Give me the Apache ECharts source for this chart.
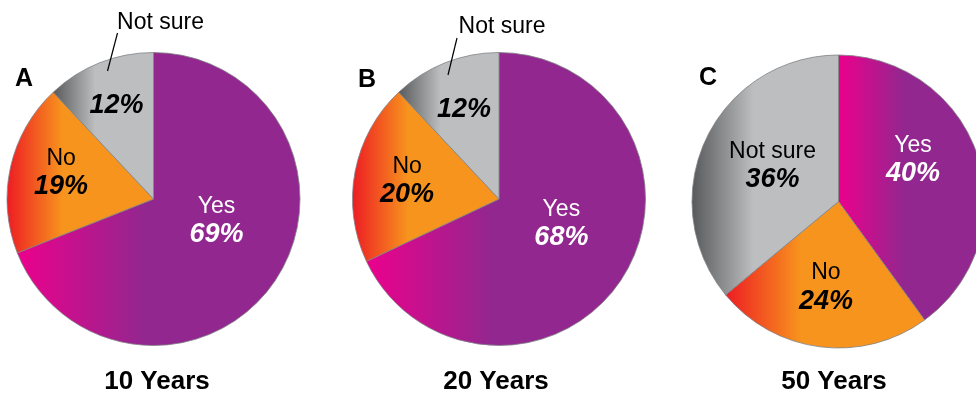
<!DOCTYPE html>
<html lang="en">
<head>
    <meta charset="UTF-8">
    <title>Pies</title>
    <script src="https://cdn.jsdelivr.net/npm/echarts@6/dist/echarts.min.js"></script>
    <style>
        * { padding: 0; margin: 0; }
        html, body { width: 976px; height: 396px; background: #fff; }
        #pies { width: 976px; height: 396px; }
    </style>
</head>
<body>
    <div id="pies"></div>
</body>
<script>
    // data
    var answers = ['Yes', 'No', 'Not sure'];
    var horizons = ['10 Years', '20 Years', '50 Years'];
    var panelTags = ['A', 'B', 'C'];
    var yesShare = [69, 68, 40];
    var noShare = [19, 20, 24];
    var notSureShare = [12, 12, 36];

    // layout
    var font = 'Liberation Sans, Arial, Helvetica, sans-serif';
    var centers = [[153.5, 199], [499, 199], [838.5, 201.5]];
    var radius = 146.5;
    var horizonX = [157, 496, 834];
    var tagPos = [[24, 79], [367, 80], [708, 78]];
    // nudges of the inner labels from the default mid-radius spot
    var nudge = [
        [[0, -21], [-18, -10], [-9, -23]],
        [[-2, -16], [-17, -4], [-7, -19]],
        [[2, -18], [-3, 10], [3, -3]]
    ];
    // "Not sure" label drawn outside for A and B: label centre, leader start, leader end (relative to pie centre)
    var outside = [
        {label: [7, -176], from: [-46, -128], to: [-36, -166]},
        {label: [3, -172], from: [-51, -124], to: [-42, -161]},
        null
    ];

    function grad(c0, c1, stop) {
        return new echarts.graphic.LinearGradient(0, 0, 1, 0, [
            {offset: 0, color: c0},
            {offset: stop, color: c1},
            {offset: 1, color: c1}
        ]);
    }
    var fills = [
        grad('#ec008c', '#92278f', 0.45),
        grad('#ed1c24', '#f7941d', 0.38),
        grad('#58595b', '#bcbec0', 0.42)
    ];
    var textColors = ['#fff', '#000', '#000'];
    var shares = [yesShare, noShare, notSureShare];

    var pies = echarts.init(document.getElementById('pies'));
    var series = [];
    var titles = [];

    horizons.forEach(function (h, i) {
        var data = answers.map(function (a, j) {
            var inner = outside[i] && j === 2;
            return {
                name: a,
                value: shares[j][i],
                itemStyle: {color: fills[j]},
                label: {
                    color: textColors[j],
                    formatter: inner ? '{p|{c}%}' : '{n|{b}}\n{p|{c}%}'
                }
            };
        });
        series.push({
            type: 'pie',
            center: centers[i],
            radius: radius,
            startAngle: 90,
            clockwise: true,
            silent: true,
            animation: false,
            itemStyle: {borderColor: '#808285', borderWidth: 0.8},
            label: {
                position: 'inside',
                fontFamily: font,
                rich: {
                    n: {fontSize: 23, lineHeight: 28, fontFamily: font},
                    p: {fontSize: 27, lineHeight: 28, fontWeight: 'bold', fontStyle: 'italic', fontFamily: font}
                }
            },
            labelLine: {show: false},
            labelLayout: function (params) {
                var d = nudge[i][params.dataIndex];
                return {dx: d[0], dy: d[1]};
            },
            data: data
        });

        if (outside[i]) {
            var o = outside[i];
            var c = centers[i];
            series.push({
                type: 'pie',
                z: 5,
                center: c,
                radius: radius,
                startAngle: 90,
                silent: true,
                animation: false,
                itemStyle: {color: 'rgba(0,0,0,0)', borderWidth: 0},
                label: {show: false},
                labelLine: {show: false},
                labelLayout: function (params) {
                    return {
                        x: c[0] + o.label[0],
                        y: c[1] + o.label[1],
                        align: 'center',
                        verticalAlign: 'middle',
                        labelLinePoints: [
                            [c[0] + o.from[0], c[1] + o.from[1]],
                            [c[0] + (o.from[0] + o.to[0]) / 2, c[1] + (o.from[1] + o.to[1]) / 2],
                            [c[0] + o.to[0], c[1] + o.to[1]]
                        ]
                    };
                },
                data: answers.map(function (a, j) {
                    return {
                        name: a,
                        value: shares[j][i],
                        label: {
                            show: j === 2,
                            position: 'outside',
                            color: '#000',
                            fontSize: 23,
                            width: 120,
                            overflow: 'none',
                            align: 'center',
                            fontFamily: font
                        },
                        labelLine: {
                            show: j === 2,
                            lineStyle: {color: '#000', width: 1.2}
                        }
                    };
                })
            });
        }

        titles.push({
            text: h,
            left: horizonX[i],
            top: 369,
            textAlign: 'center',
            padding: 0,
            textStyle: {fontSize: 26, fontWeight: 'bold', color: '#000', fontFamily: font, lineHeight: 26}
        });
        titles.push({
            text: panelTags[i],
            left: tagPos[i][0],
            top: tagPos[i][1] - 12,
            textAlign: 'center',
            padding: 0,
            textStyle: {fontSize: 25, fontWeight: 'bold', color: '#000', fontFamily: font, lineHeight: 25}
        });
    });

    pies.setOption({
        animation: false,
        backgroundColor: '#fff',
        title: titles,
        series: series
    });
</script>
</html>
